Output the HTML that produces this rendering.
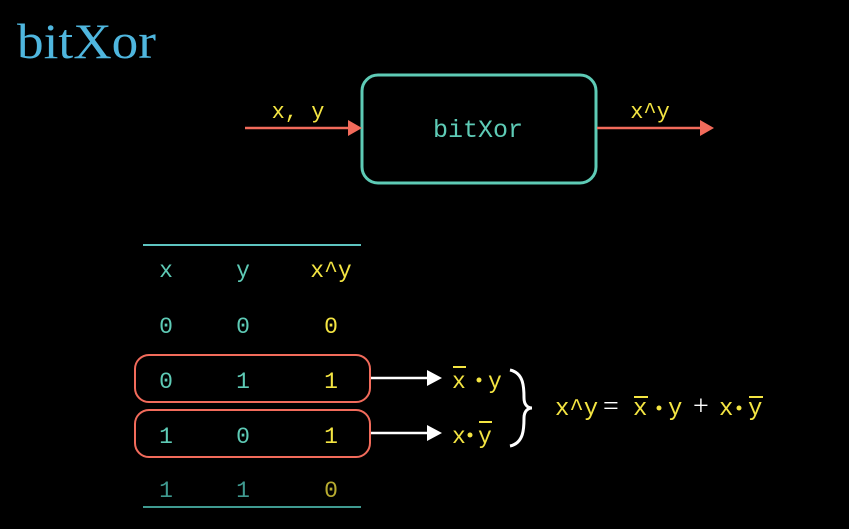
<!DOCTYPE html>
<html><head><meta charset="utf-8"><style>
html,body{margin:0;padding:0;background:#000;width:849px;height:529px;overflow:hidden}
svg{display:block}
.m{font-family:"Liberation Mono",monospace}
</style></head><body>
<svg width="849" height="529" viewBox="0 0 849 529" xmlns="http://www.w3.org/2000/svg">
<text x="17" y="58" font-family="Liberation Serif,serif" font-size="50" fill="#4fb6de" textLength="139" lengthAdjust="spacingAndGlyphs">bitXor</text>
<rect x="362" y="75" width="234" height="108" rx="16" fill="none" stroke="#5ecbb6" stroke-width="3"/>
<text x="478" y="137" class="m" font-size="25" fill="#5ecbb6" text-anchor="middle">bitXor</text>
<line x1="245" y1="128" x2="350" y2="128" stroke="#f26b5b" stroke-width="2.5"/>
<polygon points="348,120 362,128 348,136" fill="#f26b5b"/>
<text x="298" y="118" class="m" font-size="22" fill="#f4e542" text-anchor="middle">x, y</text>
<line x1="597" y1="128" x2="702" y2="128" stroke="#f26b5b" stroke-width="2.5"/>
<polygon points="700,120 714,128 700,136" fill="#f26b5b"/>
<text x="650" y="118" class="m" font-size="22" fill="#f4e542" text-anchor="middle">x^y</text>

<line x1="143" y1="245" x2="361" y2="245" stroke="#5ec4c0" stroke-width="2"/>
<line x1="143" y1="507" x2="361" y2="507" stroke="#3f9a90" stroke-width="2"/>
<g class="m" font-size="23" text-anchor="middle">
<text x="166" y="277" fill="#5ecbb6">x</text><text x="243" y="277" fill="#5ecbb6">y</text><text x="331" y="277" fill="#f4e542">x^y</text>
<text x="166" y="333" fill="#5ecbb6">0</text><text x="243" y="333" fill="#5ecbb6">0</text><text x="331" y="333" fill="#f4e542">0</text>
<text x="166" y="388" fill="#5ecbb6">0</text><text x="243" y="388" fill="#5ecbb6">1</text><text x="331" y="388" fill="#f4e542">1</text>
<text x="166" y="443" fill="#5ecbb6">1</text><text x="243" y="443" fill="#5ecbb6">0</text><text x="331" y="443" fill="#f4e542">1</text>
<text x="166" y="497" fill="#3f9a90">1</text><text x="243" y="497" fill="#3f9a90">1</text><text x="331" y="497" fill="#b8ac30">0</text>
</g>
<rect x="135" y="355" width="235" height="47" rx="14" fill="none" stroke="#f26b5b" stroke-width="2"/>
<rect x="135" y="410" width="235" height="47" rx="14" fill="none" stroke="#f26b5b" stroke-width="2"/>
<line x1="371" y1="378" x2="428" y2="378" stroke="#fff" stroke-width="2.5"/>
<polygon points="427,370 442,378 427,386" fill="#fff"/>
<line x1="371" y1="433" x2="428" y2="433" stroke="#fff" stroke-width="2.5"/>
<polygon points="427,425 442,433 427,441" fill="#fff"/>
<g class="m" font-size="23" fill="#f4e542">
<text x="452" y="388">x</text><line x1="453" y1="367" x2="466" y2="367" stroke="#f4e542" stroke-width="2"/>
<circle cx="479" cy="380" r="2.5"/><text x="488" y="388">y</text>
<text x="452" y="443">x</text><circle cx="470" cy="435" r="2.5"/>
<text x="478" y="443">y</text><line x1="479" y1="422" x2="492" y2="422" stroke="#f4e542" stroke-width="2"/>
</g>
<path d="M510,370 C524,373 524,388 524,398 C524,405 528,408 532,408 C528,408 524,411 524,418 C524,428 524,443 510,446" fill="none" stroke="#fff" stroke-width="3"/>
<g class="m" font-size="24" fill="#f4e542">
<text x="555" y="415">x^y</text>
<text x="603" y="415" fill="#fff" font-family="Liberation Serif,serif" font-size="28">=</text>
<text x="633" y="415">x</text><line x1="634" y1="397" x2="648" y2="397" stroke="#f4e542" stroke-width="2"/>
<circle cx="659" cy="408" r="2.5"/><text x="668" y="415">y</text>
<text x="693" y="415" fill="#fff" font-family="Liberation Serif,serif" font-size="28">+</text>
<text x="719" y="415">x</text><circle cx="739" cy="408" r="2.5"/>
<text x="748" y="415">y</text><line x1="749" y1="397" x2="763" y2="397" stroke="#f4e542" stroke-width="2"/>
</g>
</svg>
</body></html>
